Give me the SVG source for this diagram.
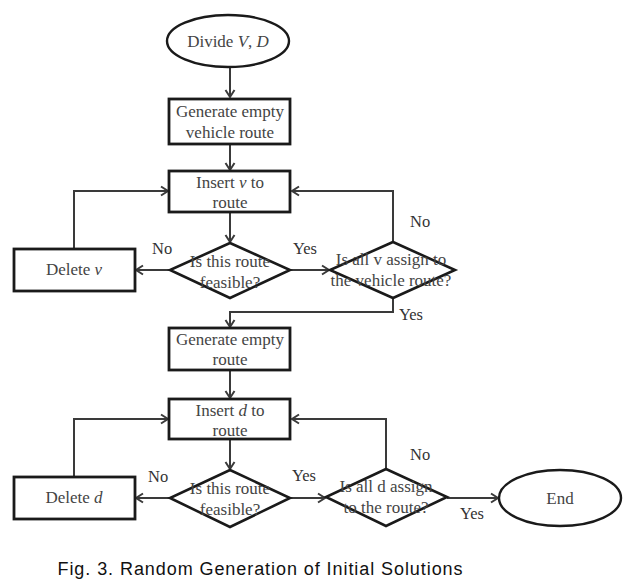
<svg xmlns="http://www.w3.org/2000/svg" width="641" height="587" viewBox="0 0 641 587">
<style>
.box{fill:#fff;stroke:#1a1a1a;stroke-width:2.8}
.dia{fill:none;stroke:#1a1a1a;stroke-width:2.6}
.ell{fill:#fff;stroke:#1a1a1a;stroke-width:2.4}
.t{font-family:"Liberation Serif","Times New Roman",serif;font-size:17px;fill:#444;text-anchor:middle}
.lbl{font-family:"Liberation Serif","Times New Roman",serif;font-size:16.5px;fill:#333}
.cap{font-family:"Liberation Sans",Arial,sans-serif;font-size:18px;fill:#111;text-anchor:middle}
.c{fill:none;stroke:#3a3a3a;stroke-width:2}
</style>
<defs>
<marker id="ah" markerWidth="12" markerHeight="12" refX="9" refY="6" orient="auto" markerUnits="userSpaceOnUse">
<path d="M2,1.5 L9,6 L2,10.5" fill="none" stroke="#3a3a3a" stroke-width="2"/>
</marker>
</defs>
<rect width="641" height="587" fill="#fff"/>
<g id="connectors">
<path class="c" d="M230,67 V97" marker-end="url(#ah)"/>
<path class="c" d="M230,144 V170" marker-end="url(#ah)"/>
<path class="c" d="M230,212 V242" marker-end="url(#ah)"/>
<path class="c" d="M170,270 H136" marker-end="url(#ah)"/>
<path class="c" d="M74,249 V191 H168" marker-end="url(#ah)"/>
<path class="c" d="M290,270 H329" marker-end="url(#ah)"/>
<path class="c" d="M393,242 V191 H292" marker-end="url(#ah)"/>
<path class="c" d="M393,298 V312 H230 V327" marker-end="url(#ah)"/>
<path class="c" d="M230,370 V398" marker-end="url(#ah)"/>
<path class="c" d="M230,439 V469" marker-end="url(#ah)"/>
<path class="c" d="M170,498 H136" marker-end="url(#ah)"/>
<path class="c" d="M74,477 V419 H168" marker-end="url(#ah)"/>
<path class="c" d="M290,498 H325" marker-end="url(#ah)"/>
<path class="c" d="M386,469 V419 H292" marker-end="url(#ah)"/>
<path class="c" d="M447,498 H498" marker-end="url(#ah)"/>
</g>
<g id="labels">
<text class="lbl" x="152" y="254">No</text>
<text class="lbl" x="293" y="254">Yes</text>
<text class="lbl" x="410" y="227">No</text>
<text class="lbl" x="399" y="320">Yes</text>
<text class="lbl" x="148" y="482">No</text>
<text class="lbl" x="292" y="481">Yes</text>
<text class="lbl" x="410" y="460">No</text>
<text class="lbl" x="460" y="519">Yes</text>
</g>
<g id="start">
<ellipse class="ell" cx="228" cy="41" rx="61" ry="26"/>
<text class="t" x="228" y="47">Divide <tspan font-style="italic">V</tspan>, <tspan font-style="italic">D</tspan></text>
</g>
<g id="gen-vehicle">
<rect class="box" x="169" y="99" width="121" height="45"/>
<text class="t" x="230" y="117">Generate empty</text>
<text class="t" x="230" y="138">vehicle route</text>
</g>
<g id="insert-v">
<rect class="box" x="169" y="171" width="121" height="41"/>
<text class="t" x="230" y="188">Insert <tspan font-style="italic">v</tspan> to</text>
<text class="t" x="230" y="208">route</text>
</g>
<g id="feasible-v">
<path class="dia" d="M230,243 L290,270 L230,298 L170,270 Z"/>
<text class="t" x="230" y="267">Is this route</text>
<text class="t" x="230" y="288">feasible?</text>
</g>
<g id="delete-v">
<rect class="box" x="14" y="249" width="121" height="42"/>
<text class="t" x="74" y="275">Delete <tspan font-style="italic">v</tspan></text>
</g>
<g id="all-v">
<path class="dia" d="M393,242 L455,270 L393,298 L330,270 Z"/>
<text class="t" x="391" y="265">Is all v assign to</text>
<text class="t" x="391" y="286">the vehicle route?</text>
</g>
<g id="gen-route">
<rect class="box" x="169" y="328" width="121" height="42"/>
<text class="t" x="230" y="345">Generate empty</text>
<text class="t" x="230" y="365">route</text>
</g>
<g id="insert-d">
<rect class="box" x="169" y="399" width="121" height="40"/>
<text class="t" x="230" y="416">Insert <tspan font-style="italic">d</tspan> to</text>
<text class="t" x="230" y="436">route</text>
</g>
<g id="feasible-d">
<path class="dia" d="M230,470 L290,498 L230,527 L170,498 Z"/>
<text class="t" x="230" y="494">Is this route</text>
<text class="t" x="230" y="515">feasible?</text>
</g>
<g id="delete-d">
<rect class="box" x="14" y="477" width="121" height="42"/>
<text class="t" x="74" y="503">Delete <tspan font-style="italic">d</tspan></text>
</g>
<g id="all-d">
<path class="dia" d="M386,469 L447,497 L386,526 L326,497 Z"/>
<text class="t" x="386" y="492">Is all d assign</text>
<text class="t" x="386" y="513">to the route?</text>
</g>
<g id="end">
<ellipse class="ell" cx="560" cy="498" rx="61" ry="28"/>
<text class="t" x="560" y="504">End</text>
</g>
<text class="cap" x="260" y="575" textLength="405" lengthAdjust="spacing">Fig. 3. Random Generation of Initial Solutions</text>
</svg>
